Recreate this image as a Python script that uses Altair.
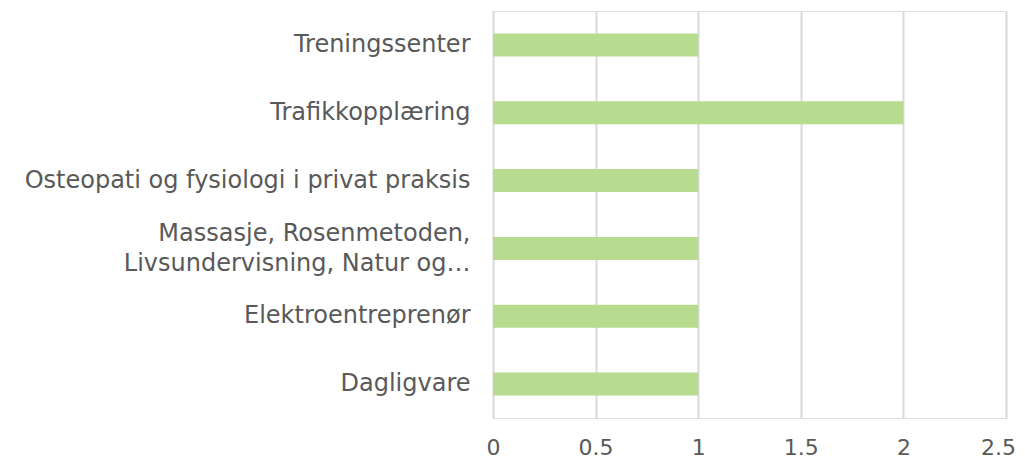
import altair as alt
import pandas as pd

categories = [
    "Treningssenter",
    "Trafikkopplæring\u00a0",
    "Osteopati og fysiologi i privat praksis\u00a0",
    "Massasje, Rosenmetoden,\u00a0|Livsundervisning, Natur og…",
    "Elektroentreprenør",
    "Dagligvare",
]
values = [1, 2, 1, 1, 1, 1]
x_ticks = [0, 0.5, 1, 1.5, 2, 2.5]

df = pd.DataFrame({"cat": categories, "val": values})

FONT = "DejaVu Sans"
chart = (
    alt.Chart(df)
    .mark_bar(color="#b7db8f", size=23)
    .encode(
        x=alt.X(
            "val:Q",
            scale=alt.Scale(domain=[0, 2.5], nice=False),
            axis=alt.Axis(
                values=x_ticks,
                title=None,
                domain=False,
                ticks=False,
                grid=True,
                gridColor="#d9d9d9",
                gridWidth=2,
                labelFontSize=22,
                labelColor="#595959",
                labelFont=FONT,
                labelPadding=19,
                labelFlush=False,
                labelOffset=alt.condition("datum.value == 2.5", alt.value(-8), alt.value(0)),
                labelExpr="datum.value == 0 ? '0' : format(datum.value, '.1~f')",
            ),
        ),
        y=alt.Y(
            "cat:N",
            sort=categories,
            scale=alt.Scale(paddingInner=0.66, paddingOuter=0.33),
            axis=alt.Axis(
                title=None,
                domain=False,
                ticks=False,
                grid=False,
                labelFontSize=24,
                labelColor="#595959",
                labelFont=FONT,
                labelPadding=23,
                labelLimit=600,
                labelLineHeight=30,
                labelOffset=alt.condition(
                    "indexof(datum.value, '|') >= 0", alt.value(-14), alt.value(0)
                ),
                labelExpr="split(datum.label, '|')",
            ),
        ),
    )
    .properties(
        width=513,
        height=407,
        autosize=alt.AutoSizeParams(type="none"),
        padding={"left": 485, "top": 3, "right": 11, "bottom": 40},
    )
    .configure_view(stroke=None)
    .configure(background="white")
)

chart.save("out.html", embed_options={"renderer": "svg", "actions": False})
